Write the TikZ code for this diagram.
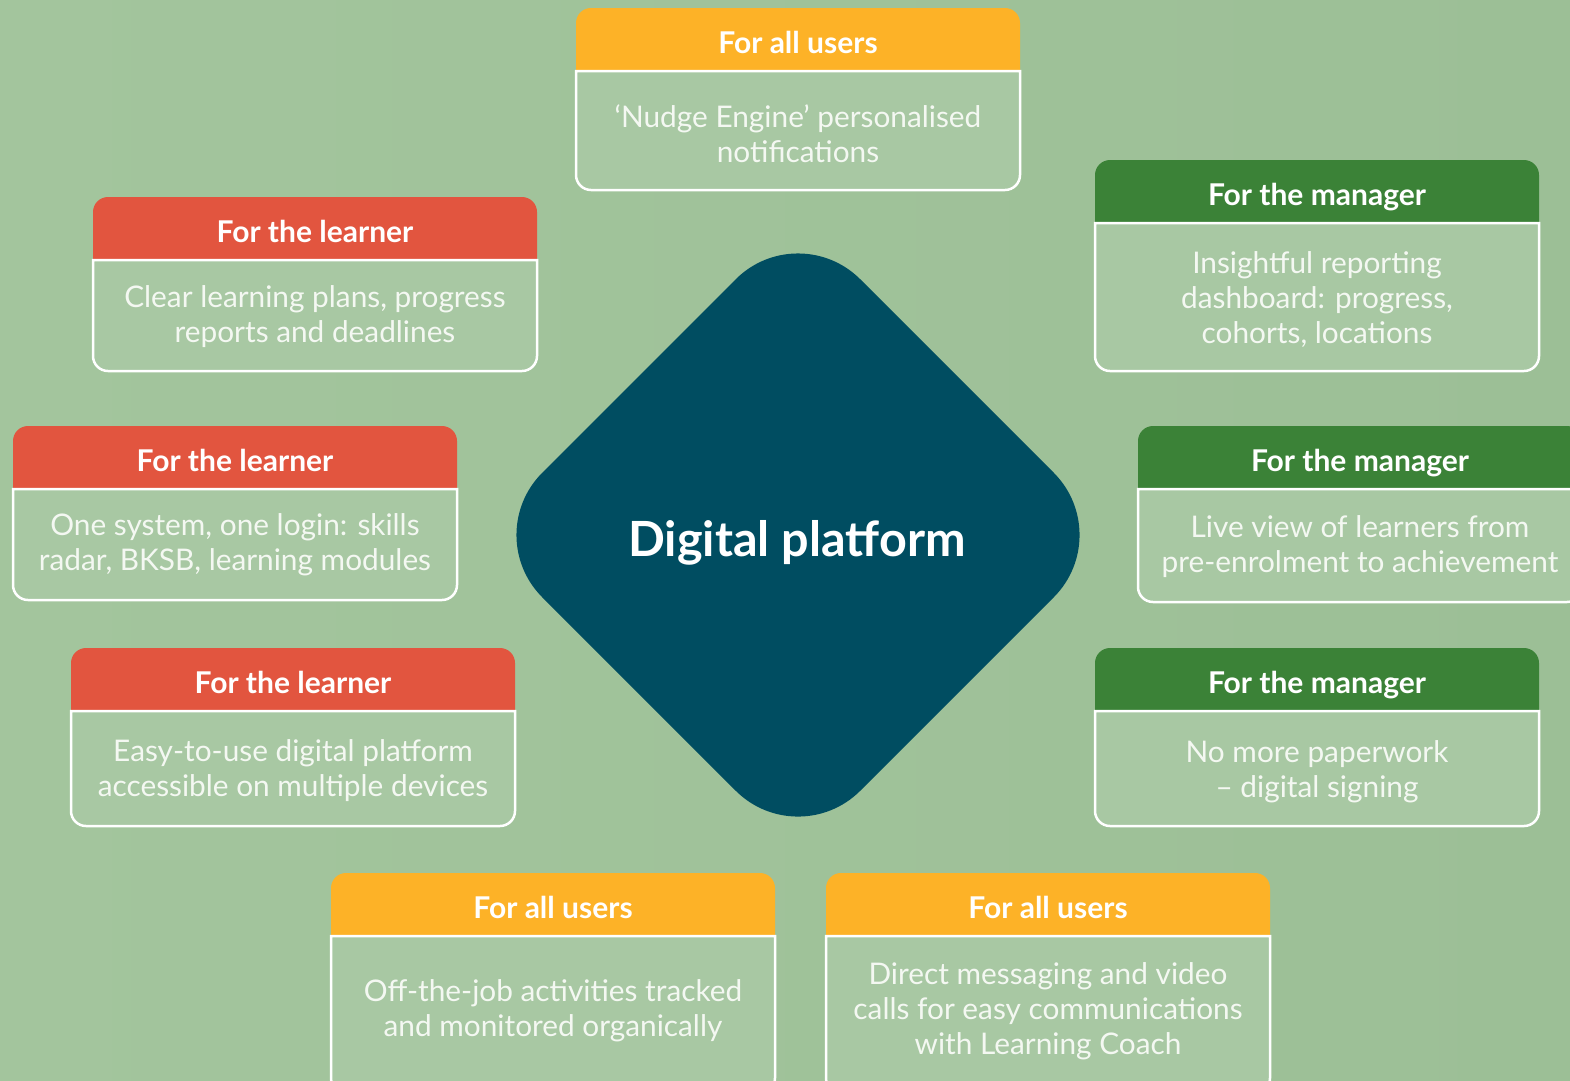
\documentclass[tikz,border=0pt]{standalone}
\usepackage{fontspec}
\setmainfont{Lato}
\definecolor{bgc}{HTML}{9CBF96}
\definecolor{bgl}{HTML}{A3C59D}
\definecolor{bodyc}{HTML}{A8C8A3}
\definecolor{orangec}{HTML}{FDB227}
\definecolor{redc}{HTML}{E2553F}
\definecolor{greenc}{HTML}{3B8237}
\definecolor{navyc}{HTML}{004D61}
\definecolor{btext}{HTML}{F4F8F2}
\tikzset{
  headtext/.style={text=white, font=\fontsize{30}{34}\selectfont\bfseries, align=center, inner sep=0pt, anchor=base},
  bodytext/.style={text=btext, font=\fontsize{29.8}{35}\selectfont, align=center, inner sep=0pt},
  bodybox/.style={fill=bodyc, draw=white, line width=2.5pt},
  titletext/.style={text=white, font=\fontsize{48.5}{52}\selectfont\bfseries, inner sep=0pt}
}
% #1 name, #2 x, #3 y, #4 H, #5 text centre y, #6 colour, #7 header, #8 body
\newcommand\mycard[8]{%
  \fill[#6] (#2,#3+63) [rounded corners=15pt] -- (#2,#3) -- (#2+444,#3) [sharp corners] -- (#2+444,#3+63) -- cycle;
  \draw[bodybox] (#2,#3+63) [rounded corners=15pt] -- (#2,#3+#4) -- (#2+444,#3+#4) [sharp corners] -- (#2+444,#3+63) -- cycle;
  \node[headtext] (#1h) at (#2+222,#3+45) {#7};
  \node[bodytext] (#1b) at (#2+222,#5) {#8};
}
\begin{document}
\begin{tikzpicture}[x=1pt,y=-1pt]
\useasboundingbox (0,0) rectangle (1570,1080);
\clip (0,0) rectangle (1570,1080);
\shade[left color=bgl, right color=bgc] (0,0) rectangle (1570,1080);
% central diamond
\fill[navyc, rounded corners=88pt] (798,217) -- (1116,535) -- (798,853) -- (480,535) -- cycle;
\node[titletext] (title) at (797,543) {Digital platform};
% cards
\mycard{a1}{576}{8}{182}{134}{orangec}{For all users}{‘Nudge Engine’ personalised\\notifications}
\mycard{m1}{1095}{160}{211}{300}{greenc}{For the manager}{Insightful reporting\\dashboard: progress,\\cohorts, locations}
\mycard{l1}{93}{197}{174}{317}{redc}{For the learner}{Clear learning plans, progress\\reports and deadlines}
\mycard{l2}{13}{426}{174}{545}{redc}{For the learner}{One system, one login: skills\\radar, BKSB, learning modules}
\mycard{m2}{1138}{426}{176}{547}{greenc}{For the manager}{Live view of learners from\\pre-enrolment to achievement}
\mycard{l3}{71}{648}{178}{771}{redc}{For the learner}{Easy-to-use digital platform\\accessible on multiple devices}
\mycard{m3}{1095}{648}{178}{772}{greenc}{For the manager}{No more paperwork\\– digital signing}
\mycard{a2}{331}{873}{220}{1011}{orangec}{For all users}{Off-the-job activities tracked\\and monitored organically}
\mycard{a3}{826}{873}{220}{1011}{orangec}{For all users}{Direct messaging and video\\calls for easy communications\\with Learning Coach}
\end{tikzpicture}
\end{document}
